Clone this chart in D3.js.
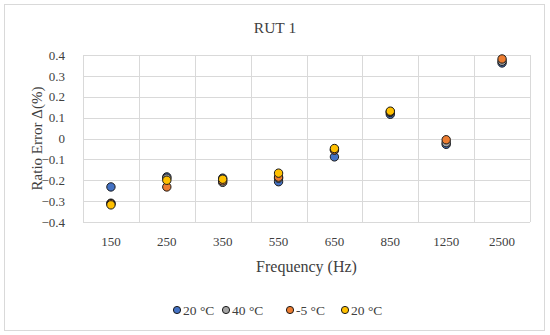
<!DOCTYPE html>
<html>
<head>
<meta charset="utf-8">
<script src="https://cdn.jsdelivr.net/npm/d3@7"></script>
<style>
  body { margin: 0; background: #fff; }
  text { font-family: "Liberation Serif", "DejaVu Serif", serif; fill: #404040; }
</style>
</head>
<body>
<svg id="chart"></svg>
<script>
const width = 550;
const height = 335;

const categories = ["150", "250", "350", "550", "650", "850", "1250", "2500"];
const yTicks = [-0.4, -0.3, -0.2, -0.1, 0, 0.1, 0.2, 0.3, 0.4];
const seriesNames = ["20 °C", "40 °C", "-5 °C", "20 °C"];
const seriesColors = ["#4472C4", "#A5A5A5", "#ED7D31", "#FFC000"];

const blue20 = [-0.232, -0.184, -0.19, -0.207, -0.088, 0.116, -0.028, 0.362];
const grey40 = [-0.31, -0.19, -0.21, -0.19, -0.055, 0.125, -0.02, 0.37];
const orangeM5 = [-0.312, -0.232, -0.203, -0.185, -0.055, 0.128, -0.006, 0.381];
const yellow20 = [-0.318, -0.2, -0.195, -0.166, -0.048, 0.131, null, null];

const series = [blue20, grey40, orangeM5, yellow20];

const margin = { top: 55, right: 20, bottom: 113, left: 83 };

const svg = d3.select("svg#chart")
    .attr("width", width)
    .attr("height", height)
    .attr("viewBox", [0, 0, width, height]);

// outer frame
svg.append("rect")
    .attr("x", 4.5).attr("y", 4.5)
    .attr("width", 540).attr("height", 326)
    .attr("fill", "#fff")
    .attr("stroke", "#d9d9d9");

const x = d3.scaleBand()
    .domain(categories)
    .range([margin.left, width - margin.right]);

const y = d3.scaleLinear()
    .domain([-0.4, 0.4])
    .range([height - margin.bottom, margin.top]);

// horizontal gridlines
svg.append("g")
    .selectAll("line")
    .data(yTicks)
    .enter()
        .append("line")
        .attr("x1", margin.left)
        .attr("x2", width - margin.right)
        .attr("y1", d => Math.round(y(d)) + 0.5)
        .attr("y2", d => Math.round(y(d)) + 0.5)
        .attr("stroke", "#d9d9d9");

// vertical gridlines between categories
const edges = categories.map(c => x(c)).concat([x.range()[1]]);
svg.append("g")
    .selectAll("line")
    .data(edges)
    .enter()
        .append("line")
        .attr("x1", d => Math.round(d) + 0.5)
        .attr("x2", d => Math.round(d) + 0.5)
        .attr("y1", y(0.4))
        .attr("y2", y(-0.4))
        .attr("stroke", "#d9d9d9");

// y axis labels
const yAxis = svg.append("g")
    .attr("transform", `translate(${margin.left - 15},0)`)
    .call(d3.axisLeft(y).tickValues(yTicks).tickSize(0).tickFormat(d3.format("")));
yAxis.select(".domain").remove();
yAxis.selectAll("text")
    .attr("font-size", 13)
    .attr("font-family", null)
    .attr("fill", "#404040");

// x axis labels
const xAxis = svg.append("g")
    .attr("transform", `translate(0,${y(-0.4) + 12})`)
    .call(d3.axisBottom(x).tickSize(0));
xAxis.select(".domain").remove();
xAxis.selectAll("text")
    .attr("font-size", 13)
    .attr("font-family", null)
    .attr("fill", "#404040");

// points
series.forEach((values, i) => {
    svg.append("g")
        .selectAll("circle")
        .data(values.map((v, j) => ({ cat: categories[j], v })).filter(d => d.v !== null))
        .enter()
            .append("circle")
            .attr("cx", d => x(d.cat) + x.bandwidth() / 2)
            .attr("cy", d => y(d.v))
            .attr("r", 4.2)
            .attr("fill", seriesColors[i])
            .attr("stroke", "#1a1a1a")
            .attr("stroke-width", 1);
});

// title
svg.append("text")
    .attr("x", 275).attr("y", 33)
    .attr("text-anchor", "middle")
    .attr("font-size", 15.5)
    .text("RUT 1");

// axis titles
svg.append("text")
    .attr("x", (margin.left + width - margin.right) / 2)
    .attr("y", 272)
    .attr("text-anchor", "middle")
    .attr("font-size", 16)
    .text("Frequency (Hz)");

svg.append("text")
    .attr("transform", `translate(42,${(y(0.4) + y(-0.4)) / 2}) rotate(-90)`)
    .attr("text-anchor", "middle")
    .attr("font-size", 15)
    .text("Ratio Error Δ(%)");

// legend
const legendX = [177, 226, 290, 345];
const legend = svg.append("g");
seriesNames.forEach((name, i) => {
    legend.append("circle")
        .attr("cx", legendX[i]).attr("cy", 310)
        .attr("r", 3.6)
        .attr("fill", seriesColors[i])
        .attr("stroke", "#1a1a1a");
    legend.append("text")
        .attr("x", legendX[i] + 6).attr("y", 314.5)
        .attr("font-size", 13.5)
        .text(name);
});
</script>
</body>
</html>
